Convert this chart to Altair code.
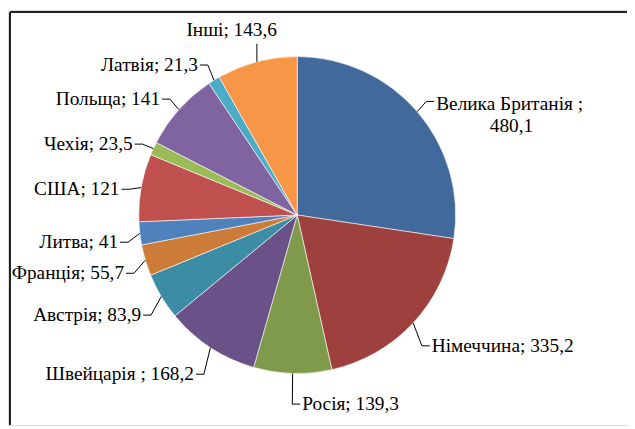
import math
import altair as alt
import pandas as pd

countries = ["Велика Британія", "Німеччина", "Росія", "Швейцарія", "Австрія", "Франція",
             "Литва", "США", "Чехія", "Польща", "Латвія", "Інші"]
values = [480.1, 335.2, 139.3, 168.2, 83.9, 55.7, 41, 121, 23.5, 141, 21.3, 143.6]
separators = [" ; ", "; ", "; ", " ; ", "; ", "; ", "; ", "; ", "; ", "; ", "; ", "; "]
colors = ["#41699C", "#9E413E", "#7F9A4A", "#6A5188", "#3D8CA5", "#CC7C38",
          "#4F81BD", "#C0504D", "#9BBB59", "#8064A2", "#4BACC6", "#F79646"]

W, H = 625, 419
CX, CY = 292, 207
R = 160
LABEL_CY = CY + 6
RX_ELBOW, RY_ELBOW = 172, 185
TICK = 8
GAP = 2
FS = 19.5
FONT = "Times New Roman, Liberation Serif, DejaVu Serif, serif"

total = sum(values)
pie = pd.DataFrame({"country": countries, "value": values, "idx": list(range(len(values)))})

lab_rows, line_rows = [], []
cum = 0.0
for i, (c, v, sep) in enumerate(zip(countries, values, separators)):
    mid = (cum + v / 2) / total * 2 * math.pi
    cum += v
    s, co = math.sin(mid), math.cos(mid)
    ex, ey = CX + R * s, CY - R * co
    by = LABEL_CY - RY_ELBOW * co
    vtxt = f"{v:g}".replace(".", ",")
    if abs(s) < 0.3 and co > 0:
        # label sitting on top of a vertical leader
        pts = [(ex, ey), (ex, by)]
        kind, tx, ty = "top", ex + 100 * s, by - 14
    else:
        bx = CX + RX_ELBOW * s
        right = s > -0.05
        tx = bx + (TICK if right else -TICK)
        pts = [(ex, ey), (bx, by), (tx, by)]
        tx, ty = tx + (GAP if right else -GAP), by
        kind = "right" if right else "left"
        if i == 0:
            kind = "wrap"
    lab_rows.append({"label": c + sep + vtxt, "name": c + sep.rstrip(), "val": vtxt,
                     "x": tx, "y": ty, "kind": kind})
    for k, (px, py) in enumerate(pts):
        line_rows.append({"seg": c, "o": k, "x": px, "y": py})

labs = pd.DataFrame(lab_rows)
lines = pd.DataFrame(line_rows)

xs = alt.Scale(domain=[0, W], range=[0, W])
ys = alt.Scale(domain=[0, H], range=[0, H])

arc = alt.Chart(pie).mark_arc(radius=R, stroke="white", strokeWidth=0.6).encode(
    theta=alt.Theta("value:Q", stack=True),
    order=alt.Order("idx:Q"),
    color=alt.Color("country:N", scale=alt.Scale(domain=countries, range=colors), legend=None),
    x=alt.value(CX),
    y=alt.value(CY),
)

leader = alt.Chart(lines).mark_line(color="black", strokeWidth=1).encode(
    x=alt.X("x:Q", scale=xs, axis=None),
    y=alt.Y("y:Q", scale=ys, axis=None),
    detail="seg:N",
    order="o:Q",
)

def text_layer(kind, field, align, **kw):
    return alt.Chart(labs).transform_filter(alt.datum.kind == kind).mark_text(
        align=align, baseline="middle", font=FONT, fontSize=FS, color="black", **kw
    ).encode(x=alt.X("x:Q", scale=xs), y=alt.Y("y:Q", scale=ys), text=f"{field}:N")

txt_r = text_layer("right", "label", "left")
txt_l = text_layer("left", "label", "right")
txt_t = text_layer("top", "label", "center")
txt_w1 = text_layer("wrap", "name", "left", dy=3)
txt_w2 = text_layer("wrap", "val", "center", dy=25, dx=76)

border_v = alt.Chart(pie).mark_rule(color="#222222", strokeWidth=1.5).encode(
    x=alt.value(2), y=alt.value(2), y2=alt.value(H)
)
border_h = alt.Chart(pie).mark_rule(color="#222222", strokeWidth=1.5).encode(
    x=alt.value(2), x2=alt.value(W), y=alt.value(2)
)

chart = alt.layer(arc, leader, txt_r, txt_l, txt_t, txt_w1, txt_w2, border_v, border_h).properties(
    width=W, height=H, autosize=alt.AutoSizeParams(type="none"), padding=0
).configure_view(stroke=None).configure(background="white")

chart.save("out.html", embed_options={"renderer": "svg", "actions": False})
